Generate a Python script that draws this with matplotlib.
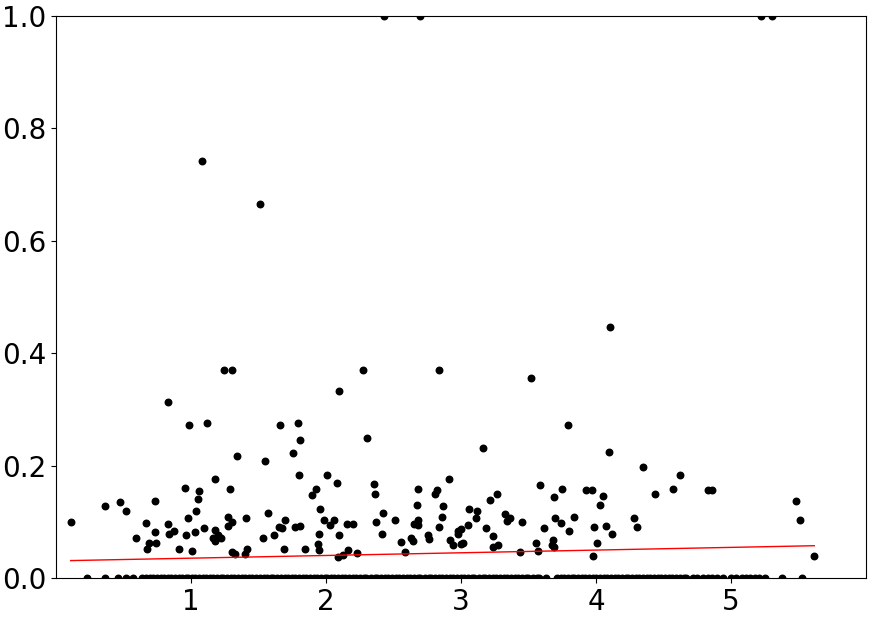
import numpy as np
from matplotlib import pyplot as plt

plt.rcParams['font.family'] = ['DejaVu Sans']
plt.rcParams['figure.dpi'] = 100

# 非零点 (x, y)
pts_x = [0.109, 0.365, 0.472, 0.516, 0.593, 0.669, 0.676, 0.686, 0.733, 0.736,
         0.741, 0.827, 0.830, 0.840, 0.874, 0.914, 0.958, 0.965, 0.980, 0.985,
         1.007, 1.027, 1.035, 1.049, 1.059, 1.081, 1.096, 1.116, 1.160, 1.175,
         1.175, 1.180, 1.198, 1.225, 1.244, 1.272, 1.274, 1.291, 1.301, 1.301,
         1.304, 1.324, 1.338, 1.402, 1.405, 1.415, 1.509, 1.533, 1.548, 1.573,
         1.615, 1.654, 1.659, 1.674, 1.686, 1.699, 1.753, 1.768, 1.795, 1.798,
         1.807, 1.807, 1.842, 1.894, 1.926, 1.941, 1.948, 1.951, 1.953, 1.983,
         2.007, 2.030, 2.057, 2.084, 2.091, 2.099, 2.099, 2.123, 2.153, 2.165,
         2.198, 2.232, 2.274, 2.301, 2.358, 2.361, 2.368, 2.412, 2.425, 2.432,
         2.514, 2.556, 2.585, 2.630, 2.647, 2.654, 2.674, 2.679, 2.681, 2.684,
         2.696, 2.753, 2.765, 2.807, 2.822, 2.837, 2.840, 2.857, 2.864, 2.909,
         2.922, 2.941, 2.978, 2.980, 3.002, 3.002, 3.015, 3.054, 3.062, 3.111,
         3.119, 3.165, 3.183, 3.215, 3.235, 3.240, 3.264, 3.274, 3.323, 3.341,
         3.363, 3.439, 3.452, 3.521, 3.556, 3.573, 3.583, 3.617, 3.672, 3.679,
         3.689, 3.689, 3.696, 3.743, 3.746, 3.795, 3.798, 3.837, 3.923, 3.968,
         3.978, 3.983, 4.007, 4.030, 4.052, 4.072, 4.099, 4.101, 4.116, 4.279,
         4.304, 4.346, 4.435, 4.573, 4.620, 4.827, 4.859, 5.220, 5.306, 5.484,
         5.511, 5.617]
pts_y = [0.100, 0.128, 0.136, 0.119, 0.072, 0.098, 0.051, 0.062, 0.081, 0.137,
         0.062, 0.313, 0.096, 0.078, 0.083, 0.052, 0.161, 0.076, 0.106, 0.273,
         0.048, 0.082, 0.120, 0.141, 0.155, 0.742, 0.089, 0.276, 0.072, 0.177,
         0.085, 0.066, 0.077, 0.072, 0.370, 0.109, 0.093, 0.158, 0.100, 0.370,
         0.047, 0.043, 0.217, 0.043, 0.107, 0.052, 0.665, 0.072, 0.208, 0.115,
         0.077, 0.090, 0.273, 0.089, 0.052, 0.103, 0.222, 0.091, 0.276, 0.184,
         0.246, 0.093, 0.052, 0.148, 0.158, 0.060, 0.049, 0.078, 0.122, 0.104,
         0.184, 0.094, 0.104, 0.169, 0.038, 0.077, 0.332, 0.041, 0.096, 0.049,
         0.096, 0.045, 0.370, 0.249, 0.168, 0.150, 0.099, 0.078, 0.115, 1.000,
         0.103, 0.064, 0.046, 0.071, 0.066, 0.096, 0.130, 0.094, 0.104, 0.158,
         1.000, 0.077, 0.069, 0.149, 0.156, 0.370, 0.091, 0.109, 0.129, 0.176,
         0.068, 0.058, 0.084, 0.078, 0.087, 0.060, 0.063, 0.095, 0.122, 0.107,
         0.119, 0.232, 0.089, 0.138, 0.055, 0.075, 0.149, 0.058, 0.114, 0.101,
         0.106, 0.046, 0.100, 0.356, 0.063, 0.048, 0.165, 0.089, 0.058, 0.067,
         0.055, 0.144, 0.107, 0.098, 0.158, 0.273, 0.084, 0.109, 0.156, 0.156,
         0.040, 0.091, 0.063, 0.130, 0.146, 0.093, 0.225, 0.446, 0.079, 0.106,
         0.091, 0.198, 0.150, 0.158, 0.183, 0.157, 0.157, 1.000, 1.000, 0.137,
         0.104, 0.040]

# y = 0 的点
zero_x = [0.23, 0.36, 0.46, 0.52, 0.57, 0.64, 0.67, 0.70, 0.72, 0.75, 0.78, 0.80,
          0.83, 0.85, 0.88, 0.91, 0.93, 0.96, 0.98, 1.01, 1.03, 1.06, 1.09, 1.11,
          1.14, 1.16, 1.19, 1.22, 1.24, 1.27, 1.30, 1.32, 1.35, 1.38, 1.40, 1.43,
          1.45, 1.48, 1.51, 1.54, 1.56, 1.59, 1.61, 1.64, 1.67, 1.70, 1.72, 1.75,
          1.77, 1.80, 1.83, 1.85, 1.88, 1.91, 1.93, 1.96, 1.99, 2.01, 2.04, 2.06,
          2.09, 2.12, 2.14, 2.17, 2.20, 2.22, 2.25, 2.28, 2.30, 2.33, 2.36, 2.38,
          2.41, 2.44, 2.46, 2.49, 2.52, 2.54, 2.57, 2.60, 2.62, 2.65, 2.68, 2.70,
          2.73, 2.76, 2.78, 2.81, 2.84, 2.86, 2.89, 2.92, 2.94, 2.97, 3.00, 3.02,
          3.05, 3.08, 3.10, 3.13, 3.16, 3.18, 3.21, 3.24, 3.26, 3.29, 3.32, 3.34,
          3.37, 3.40, 3.42, 3.45, 3.48, 3.50, 3.53, 3.56, 3.58, 3.63, 3.71, 3.74,
          3.76, 3.79, 3.82, 3.84, 3.87, 3.90, 3.92, 3.95, 3.98, 4.00, 4.03, 4.06,
          4.08, 4.11, 4.14, 4.16, 4.19, 4.22, 4.24, 4.27, 4.30, 4.32, 4.35, 4.38,
          4.40, 4.43, 4.46, 4.48, 4.51, 4.54, 4.56, 4.59, 4.62, 4.65, 4.67, 4.72,
          4.75, 4.79, 4.83, 4.86, 4.90, 4.94, 5.00, 5.04, 5.08, 5.11, 5.14, 5.18,
          5.21, 5.25, 5.375, 5.528]

# 拟合直线系数
fit_slope = 0.0048
fit_intercept = 0.0305

x = np.array(pts_x + zero_x)
y = np.array(pts_y + [0.0] * len(zero_x))

fig = plt.figure(figsize=(8.72, 6.18))
ax = fig.add_axes([0.0642, 0.0647, 0.9289, 0.9094])
ax.scatter(x, y, s=22, color='black', zorder=2)

# 红色拟合线, 覆盖数据的x范围
line_x = np.array([x.min(), x.max()])
ax.plot(line_x, fit_intercept + fit_slope * line_x, color='red', linewidth=1, zorder=3)

ax.set_xlim(0, 6)
ax.set_ylim(0, 1.0)
ax.set_xticks([1, 2, 3, 4, 5])
ax.set_yticks([0.0, 0.2, 0.4, 0.6, 0.8, 1.0])
ax.tick_params(labelsize=20)

plt.savefig('out.png', dpi=100)
